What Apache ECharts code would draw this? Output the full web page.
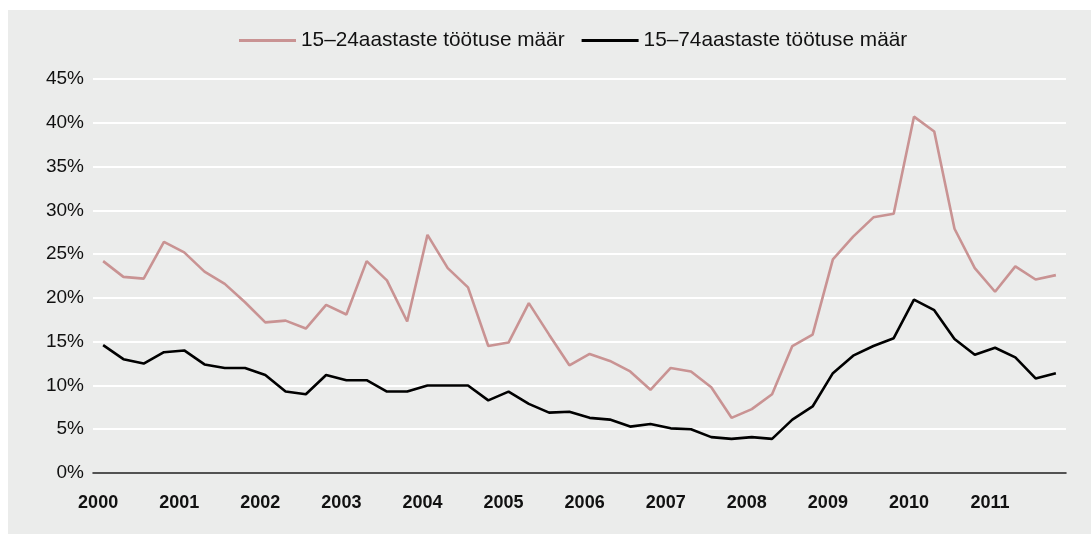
<!DOCTYPE html>
<html>
<head>
<meta charset="utf-8">
<script src="https://cdn.jsdelivr.net/npm/echarts@6/dist/echarts.min.js"></script>
<style>
  html, body { margin: 0; padding: 0; background: #fff; }
  #chart { width: 1091px; height: 534px; }
</style>
</head>
<body>
<div id="chart"></div>
<script>
// data
const years = ['2000', '2001', '2002', '2003', '2004', '2005', '2006', '2007', '2008', '2009', '2010', '2011']
const quarters = ['I', 'II', 'III', 'IV']

// 15–24 aastased, kvartalid
const youth = [24.2, 22.4, 22.2, 26.4, 25.2, 23.0, 21.6, 19.5, 17.2, 17.4, 16.5, 19.2,
    18.1, 24.2, 22.0, 17.3, 27.2, 23.4, 21.2, 14.5, 14.9, 19.4, 15.8, 12.3,
    13.6, 12.8, 11.6, 9.5, 12.0, 11.6, 9.8, 6.3, 7.3, 9.0, 14.5, 15.8,
    24.4, 27.0, 29.2, 29.6, 40.7, 39.0, 27.9, 23.4, 20.7, 23.6, 22.1, 22.6]
// 15–74 aastased
const total = [14.6, 13.0, 12.5, 13.8, 14.0, 12.4, 12.0, 12.0, 11.2, 9.3, 9.0, 11.2,
    10.6, 10.6, 9.3, 9.3, 10.0, 10.0, 10.0, 8.3, 9.3, 7.9, 6.9, 7.0,
    6.3, 6.1, 5.3, 5.6, 5.1, 5.0, 4.1, 3.9, 4.1, 3.9, 6.1, 7.6,
    11.4, 13.4, 14.5, 15.4, 19.8, 18.6, 15.3, 13.5, 14.3, 13.2, 10.8, 11.4]

const seriesNames = ['15–24aastaste töötuse määr', '15–74aastaste töötuse määr']
const yTicks = [0, 5, 10, 15, 20, 25, 30, 35, 40, 45]

const categories = []
years.forEach(y => quarters.forEach(q => categories.push(y + ' ' + q)))

const font = 'Liberation Sans, Arial, Helvetica, sans-serif'
const chart = echarts.init(document.getElementById('chart'))

chart.setOption({
    animation: false,
    backgroundColor: '#ffffff',
    graphic: [{
        type: 'rect',
        left: 8,
        top: 10,
        shape: { width: 1083, height: 524 },
        style: { fill: '#ebeceb' },
        z: -10,
    }],
    legend: {
        left: 239,
        top: 30,
        padding: 0,
        icon: 'rect',
        itemWidth: 57,
        itemHeight: 3,
        itemGap: 17,
        textStyle: { fontFamily: font, fontSize: 20.8, color: '#111' },
        data: seriesNames,
    },
    grid: { left: 93, right: 25, top: 79, bottom: 61, containLabel: false },
    xAxis: {
        type: 'category',
        data: categories,
        boundaryGap: true,
        axisLine: { lineStyle: { color: '#1a1a1a', width: 1.5 } },
        axisTick: { show: false },
        axisLabel: {
            interval: 3,
            margin: 21,
            padding: [0, 10, 0, 0],
            fontFamily: font,
            fontSize: 18,
            fontWeight: 'bold',
            color: '#111',
            formatter: v => v.split(' ')[0],
        },
    },
    yAxis: {
        type: 'value',
        min: yTicks[0],
        max: yTicks[yTicks.length - 1],
        interval: 5,
        axisLine: { show: false },
        axisTick: { show: false },
        splitLine: { lineStyle: { color: '#ffffff', width: 2 } },
        axisLabel: {
            margin: 9,
            fontFamily: font,
            fontSize: 19,
            color: '#111',
            formatter: '{value}%',
        },
    },
    series: [
        {
            name: seriesNames[0],
            type: 'line',
            data: youth,
            symbol: 'none',
            itemStyle: { color: '#c99393' },
            lineStyle: { color: '#c99393', width: 2.6 },
        },
        {
            name: seriesNames[1],
            type: 'line',
            data: total,
            symbol: 'none',
            itemStyle: { color: '#000000' },
            lineStyle: { color: '#000000', width: 2.6 },
        },
    ],
})
</script>
</body>
</html>
